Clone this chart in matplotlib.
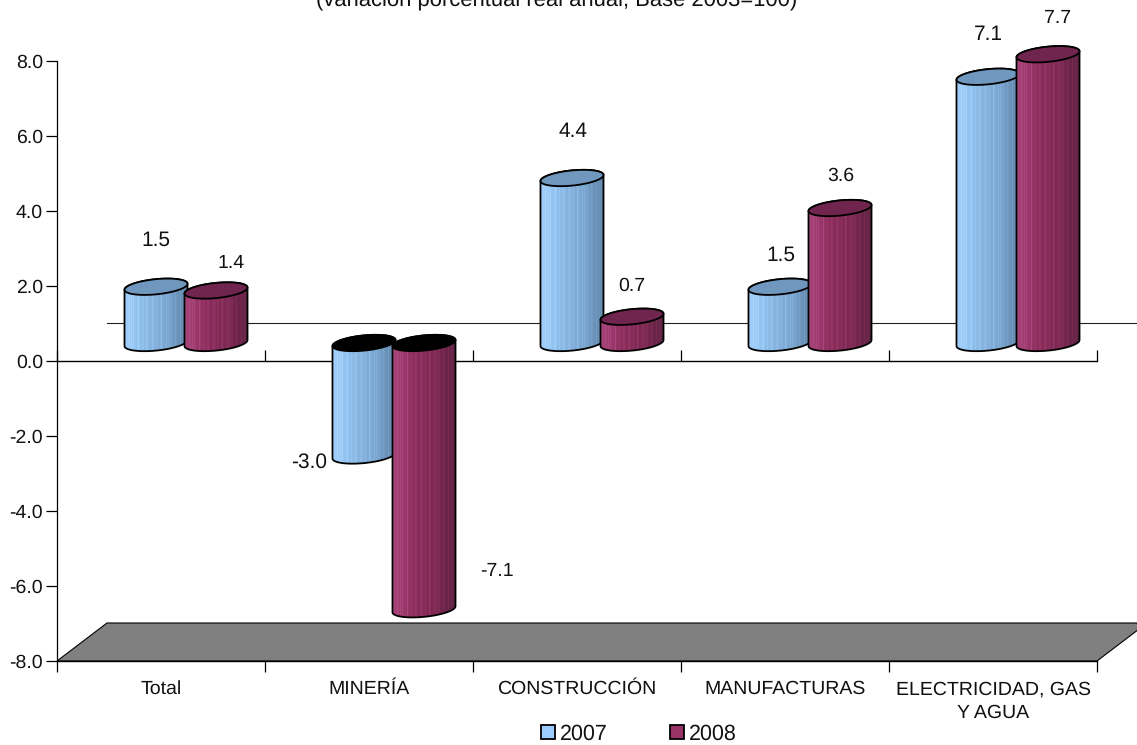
import matplotlib
matplotlib.use("Agg")
import matplotlib.pyplot as plt
import numpy as np
from matplotlib.colors import LinearSegmentedColormap
from matplotlib.patches import Patch, Polygon

plt.rcParams['font.family'] = ['Liberation Sans', 'DejaVu Sans']
plt.rcParams['text.hinting'] = 'none'

categories = ['Total', 'MINERÍA', 'CONSTRUCCIÓN', 'MANUFACTURAS', 'ELECTRICIDAD, GAS\nY AGUA']
years = ['2007', '2008']
values_2007 = [1.5, -3.0, 4.4, 1.5, 7.1]
values_2008 = [1.4, -7.1, 0.7, 3.6, 7.7]
yticks = [-8, -6, -4, -2, 0, 2, 4, 6, 8]

# hand placed labels, offset in pixels from the end of the cylinder
label_off_2007 = [(0, 46), (-55, -7), (1, 46), (1, 31), (0, 42)]
label_off_2008 = [(15, 27), (73, 38), (0, 31), (1, 32), (10, 36)]

# px -> data units (208 px per category, 37.5 px per y unit)
PX_X = 1 / 208
PX_Y = 1 / 37.5
DEPTH_X = 50 * PX_X
DEPTH_Y = 38 * PX_Y
SHIFT_X = 25 * PX_X    # cylinders sit half way into the floor
BASE_Y = 18 * PX_Y
HALF_GAP = 30 * PX_X
RAD_A = 31.5
RAD_B = 7.6
TILT = 3.0

blue_cmap = LinearSegmentedColormap.from_list('b', ['#a2d0ff', '#8ab8e4', '#7aa6d0', '#5f84a8'])
red_cmap = LinearSegmentedColormap.from_list('r', ['#a8447a', '#8c2c5c', '#7e2853', '#5e2040'])


def ellipse(cx, cy, t):
    x = cx + RAD_A * PX_X * np.cos(t)
    y = cy + (RAD_B * np.sin(t) + TILT * np.cos(t)) * PX_Y
    return x, y


def shade(cmap):
    # ramp with faint lighter stripes like the original fill
    pos = np.linspace(0, 1, 96)
    rgb = cmap(pos)[:, :3]
    stripes = (np.arange(96) % 7 == 0) | (np.arange(96) % 11 == 0)
    rgb[stripes] = rgb[stripes] + 0.07
    return np.clip(rgb, 0, 1)[np.newaxis, :, :]


def cylinder(ax, cx, value, cmap, top_color, z):
    cy0 = BASE_Y
    cy1 = BASE_Y + value
    upper = max(cy0, cy1)
    lower = min(cy0, cy1)
    # lower half of the bottom ellipse right to left, then upper half of the top one left to right
    t = np.linspace(0, np.pi, 40)
    bx, by = ellipse(cx, lower, -t)
    tx, ty = ellipse(cx, upper, t[::-1])
    body = Polygon(np.column_stack([np.r_[bx, tx], np.r_[by, ty]]), closed=True,
                   transform=ax.transData, fc='none', ec='black', lw=1.3, zorder=z + 0.2, clip_on=False)
    ax.add_patch(body)
    body.set_clip_on(False)
    im = ax.imshow(shade(cmap), extent=(cx - RAD_A * PX_X, cx + RAD_A * PX_X, lower - 1, upper + 1),
                   aspect='auto', zorder=z, interpolation='bilinear')
    im.set_clip_path(body)
    im.set_clip_box(ax.figure.bbox)
    # cap: black when the bar hangs below zero
    full = np.linspace(0, 2 * np.pi, 80)
    ex, ey = ellipse(cx, upper, full)
    cap = 'black' if value < 0 else top_color
    ax.add_patch(Polygon(np.column_stack([ex, ey]), closed=True, fc=cap, ec='black', lw=1.3, zorder=z + 0.3,
                         clip_on=False))


fig = plt.figure(figsize=(11.37, 7.45), dpi=100)
ax = fig.add_axes([57 / 1137, 1 - 661 / 745, 1040 / 1137, 600 / 745])

# floor and the line of the back wall
ax.add_patch(Polygon([(0, -8), (DEPTH_X, -8 + DEPTH_Y), (5 + DEPTH_X, -8 + DEPTH_Y), (5, -8)], closed=True,
                     fc='#808080', ec='black', lw=0.8, clip_on=False, zorder=1))
ax.plot([DEPTH_X, 5 + DEPTH_X], [DEPTH_Y, DEPTH_Y], color='#222222', lw=0.8, clip_on=False, zorder=1)

z = 3
for i in range(len(categories)):
    cx = i + 0.5 + SHIFT_X
    cylinder(ax, cx - HALF_GAP, values_2007[i], blue_cmap, '#7098bf', z)
    cylinder(ax, cx + HALF_GAP, values_2008[i], red_cmap, '#70254f', z + 1)
    z += 2
    ax.annotate(f'{values_2007[i]:.1f}', (cx - HALF_GAP, BASE_Y + values_2007[i]), xytext=label_off_2007[i],
                textcoords='offset pixels', ha='center', va='center', fontsize=15, color='#111111',
                annotation_clip=False, zorder=30)
    ax.annotate(f'{values_2008[i]:.1f}', (cx + HALF_GAP, BASE_Y + values_2008[i]), xytext=label_off_2008[i],
                textcoords='offset pixels', ha='center', va='center', fontsize=14, color='#111111',
                annotation_clip=False, zorder=30)

ax.set_xlim(0, 5)
ax.set_ylim(-8, 8)
ax.set_yticks(yticks)
ax.set_yticklabels([f'{v:.1f}' for v in yticks], fontsize=14, color='#111111')
ax.tick_params(axis='y', length=8, width=0.9, pad=2)
ax.set_xticks(range(6))
ax.set_xticklabels([])
ax.set_xticks(np.arange(len(categories)) + 0.5, labels=categories, minor=True)
ax.tick_params(axis='x', which='major', length=8, width=0.9)
ax.tick_params(axis='x', which='minor', length=0, pad=14, labelsize=14, labelcolor='#111111')
for lab in ax.get_xticklabels(minor=True):
    lab.set_linespacing(1.4)
ax.spines['top'].set_visible(False)
ax.spines['right'].set_visible(False)
ax.spines['left'].set_linewidth(0.9)
ax.spines['bottom'].set_linewidth(1.0)

# zero line with its own ticks
zero = ax.secondary_xaxis(0.5)
zero.set_xticks(range(6))
zero.set_xticklabels([])
zero.tick_params(length=8, width=0.9)
zero.spines['bottom'].set_linewidth(1.0)
zero.spines['top'].set_linewidth(1.0)
zero.set_zorder(2)

fig.text(557 / 1137, 1 - 5 / 745, '(variación porcentual real anual; Base 2003=100)', ha='center', va='baseline',
         fontsize=15.8, color='#111111')

handles = [Patch(fc='#9ccbff', ec='black', lw=1.3, label=years[0]),
           Patch(fc='#993366', ec='black', lw=1.3, label=years[1])]
fig.legend(handles=handles, loc='center', bbox_to_anchor=(639 / 1137, 1 - 734 / 745), ncol=2, frameon=False,
           fontsize=15.5, handlelength=0.65, handleheight=0.65, handletextpad=0.24, columnspacing=2.9,
           labelcolor='#111111', borderpad=0, borderaxespad=0)

fig.savefig('out.png', dpi=100)
